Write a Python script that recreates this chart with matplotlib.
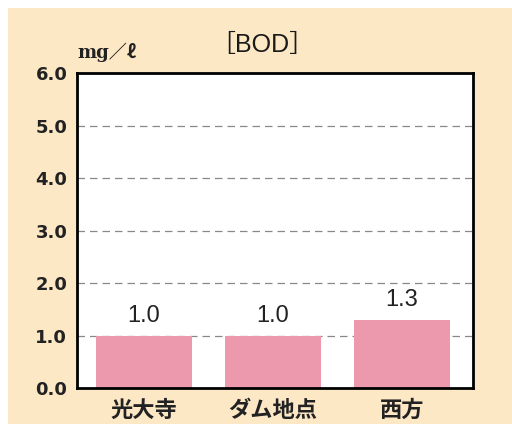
import numpy as np
import matplotlib.pyplot as plt
from matplotlib.patches import Rectangle

# BOD 測定値
sites = ["光大寺", "ダム地点", "西方"]
bod = [1.0, 1.0, 1.3]
yticks = [0.0, 1.0, 2.0, 3.0, 4.0, 5.0, 6.0]

fig = plt.figure(figsize=(5.12, 4.24), dpi=100)
fig.patch.set_facecolor("white")
# ベージュの背景
fig.patches.append(Rectangle((8 / 512, 0), 1, 1 - 8 / 424, transform=fig.transFigure,
                             facecolor="#fde8c6", edgecolor="none", zorder=-1))

ax = fig.add_axes([0.1504, 0.0849, 0.7734, 0.7429])
ax.set_facecolor("white")

x = np.arange(len(sites))
ax.bar(x, bod, width=0.745, color="#ec98ad", zorder=3)
for i, v in zip(x, bod):
    ax.annotate(f"{v:.1f}", (i, v), xytext=(0, 6), textcoords="offset points",
                ha="center", va="bottom", fontsize=17, family="Liberation Sans",
                color="#222222")

ax.set_xlim(-0.52, 2.55)
ax.set_ylim(0, 6)
ax.set_yticks(yticks)
ax.set_yticklabels([f"{t:.1f}" for t in yticks], fontsize=13, fontweight="bold",
                   family="DejaVu Sans", color="#222222")
ax.set_xticks(x)
ax.set_xticklabels(sites, fontsize=16, fontweight="bold",
                   family=["Noto Sans CJK JP", "DejaVu Sans"], color="#222222")
ax.tick_params(axis="both", length=0)
ax.tick_params(axis="y", pad=7)
ax.tick_params(axis="x", pad=8)

for t in yticks[1:-1]:
    ax.axhline(t, color="#888888", lw=0.9, dashes=(6, 4), zorder=1)

for s in ax.spines.values():
    s.set_linewidth(2)
    s.set_color("black")
    s.set_zorder(5)

fig.text(0.512, 0.895, "［BOD］", ha="center", va="center", fontsize=18,
         family=["Liberation Sans", "Noto Sans CJK JP"], color="#1a1a1a")
fig.text(0.152, 0.877, "mg／ℓ", ha="left", va="center", fontsize=13, fontweight="bold",
         family=["DejaVu Serif", "Noto Sans CJK JP"], color="#222222")

fig.savefig("out.png", dpi=100)
